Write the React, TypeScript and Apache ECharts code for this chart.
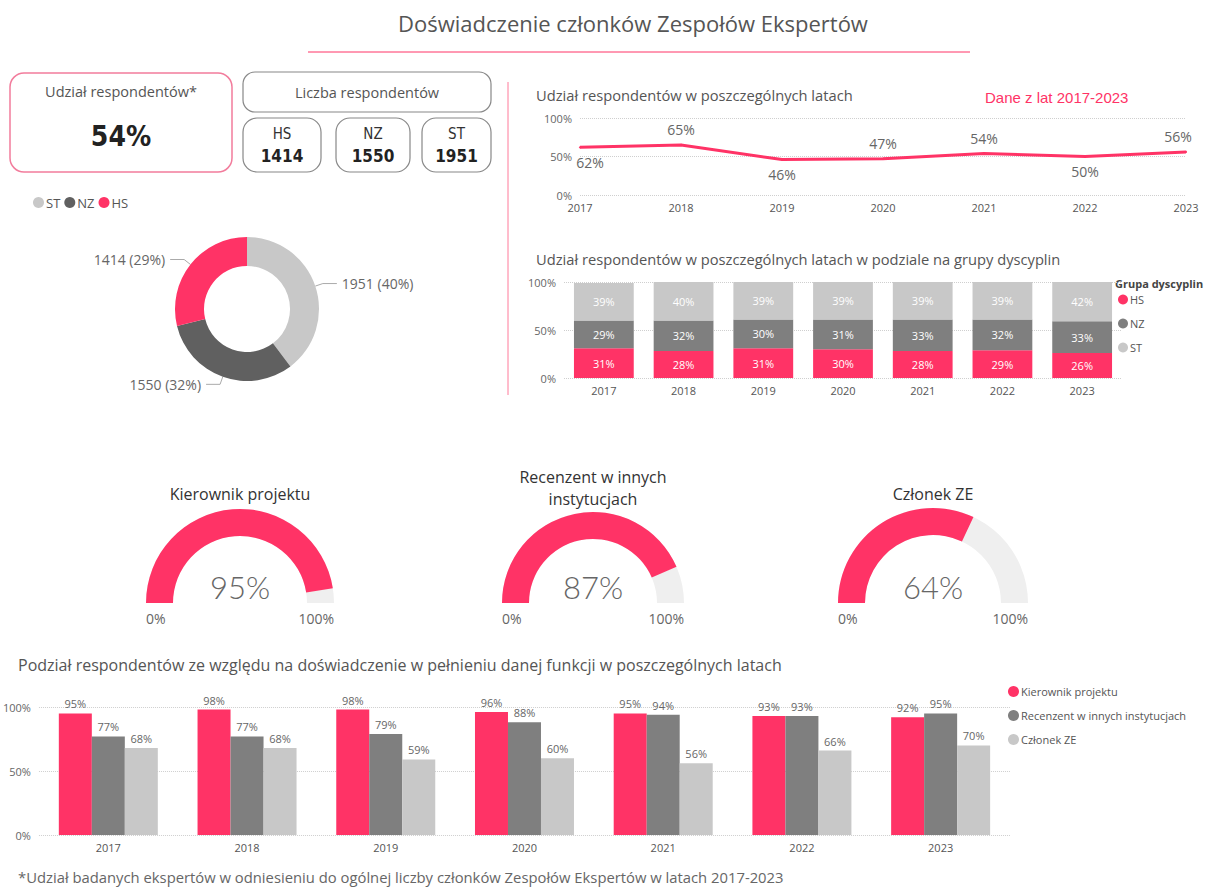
import React, { useEffect, useRef } from "react";
import * as echarts from "echarts";

const years = ["2017", "2018", "2019", "2020", "2021", "2022", "2023"];
const shareByYear = [62, 65, 46, 47, 54, 50, 56];
const shareLabelPos = ["bottom", "top", "bottom", "top", "top", "bottom", "top"];
const hsShare = [31, 28, 31, 30, 28, 29, 26];
const nzShare = [29, 32, 30, 31, 33, 32, 33];
const stShare = [39, 40, 39, 39, 39, 39, 42];
const groups = ["HS", "NZ", "ST"];
const groupCounts = [1414, 1550, 1951];
const overallShare = 54;
const gaugeNames = ["Kierownik projektu", "Recenzent w innych\ninstytucjach", "Członek ZE"];
const gaugeValues = [95, 87, 64];
const roleNames = ["Kierownik projektu", "Recenzent w innych instytucjach", "Członek ZE"];
const kierownik = [95, 98, 98, 96, 95, 93, 92];
const recenzent = [77, 77, 79, 88, 94, 93, 95];
const czlonek = [68, 68, 59, 60, 56, 66, 70];

const PINK = "#ff3366";
const DARK = "#606060";
const MID = "#7f7f7f";
const LIGHT = "#c8c8c8";
const FONT = "'Segoe UI', 'Open Sans', 'Noto Sans', sans-serif";
const NUMFONT = "'DejaVu Sans Condensed', 'Roboto Condensed', Roboto, sans-serif";
const THINFONT = "Lato, Roboto, sans-serif";
const TXT = "#555";

const groupColor: Record<string, string> = { HS: PINK, NZ: DARK, ST: LIGHT };

export default function App() {
  const ref = useRef<HTMLDivElement>(null);
  useEffect(() => {
    const chart = echarts.init(ref.current!, undefined, { renderer: "svg" });

    const gaugeLayout = [
      { cx: 240, cy: 603, r: 94, titleOff: -109 },
      { cx: 593, cy: 603, r: 91, titleOff: -115 },
      { cx: 933, cy: 603, r: 95, titleOff: -109 },
    ];

    const smallBoxes = [
      { x: 243, w: 78 },
      { x: 336, w: 74 },
      { x: 422, w: 69 },
    ];

    const graphic: any[] = [
      { type: "text", x: 633, y: 23, style: { text: "Doświadczenie członków Zespołów Ekspertów", fontSize: 22, fill: TXT, fontFamily: FONT, align: "center", verticalAlign: "middle" } },
      { type: "line", shape: { x1: 308, y1: 52, x2: 970, y2: 52 }, style: { stroke: PINK, lineWidth: 1 } },
      { type: "rect", shape: { x: 10, y: 73, width: 222, height: 99, r: 14 }, style: { fill: "none", stroke: "#f27c9c", lineWidth: 1.5 } },
      { type: "text", x: 121, y: 91, style: { text: "Udział respondentów*", fontSize: 14.5, fill: TXT, fontFamily: FONT, align: "center", verticalAlign: "middle" } },
      { type: "text", x: 121, y: 136, style: { text: overallShare + "%", fontSize: 28, fontWeight: 600, fill: "#222", fontFamily: NUMFONT, align: "center", verticalAlign: "middle" } },
      { type: "rect", shape: { x: 243, y: 72, width: 248, height: 40, r: 12 }, style: { fill: "none", stroke: "#888", lineWidth: 1.2 } },
      { type: "text", x: 367, y: 92, style: { text: "Liczba respondentów", fontSize: 14.5, fill: TXT, fontFamily: FONT, align: "center", verticalAlign: "middle" } },
      { type: "line", shape: { x1: 508, y1: 82, x2: 508, y2: 395 }, style: { stroke: "#ff7a9a", lineWidth: 1 } },
      { type: "text", x: 536, y: 95, style: { text: "Udział respondentów w poszczególnych latach", fontSize: 14.7, fill: TXT, fontFamily: FONT, verticalAlign: "middle" } },
      { type: "text", x: 985, y: 97, style: { text: "Dane z lat 2017-2023", fontSize: 15, fill: PINK, fontFamily: "'Liberation Sans', Arial, sans-serif", verticalAlign: "middle" } },
      { type: "text", x: 536, y: 259, style: { text: "Udział respondentów w poszczególnych latach w podziale na grupy dyscyplin", fontSize: 14.7, fill: TXT, fontFamily: FONT, verticalAlign: "middle" } },
      { type: "text", x: 1115, y: 283, style: { text: "Grupa dyscyplin", fontSize: 11, fontWeight: "bold", fill: "#444", fontFamily: FONT, verticalAlign: "middle" } },
      { type: "text", x: 18, y: 665, style: { text: "Podział respondentów ze względu na doświadczenie w pełnieniu danej funkcji w poszczególnych latach", fontSize: 16, fill: TXT, fontFamily: FONT, verticalAlign: "middle" } },
      { type: "text", x: 18, y: 877, style: { text: "*Udział badanych ekspertów w odniesieniu do ogólnej liczby członków Zespołów Ekspertów w latach 2017-2023", fontSize: 14.8, fill: "#666", fontFamily: FONT, verticalAlign: "middle" } },
    ];

    groups.forEach((g, i) => {
      const b = smallBoxes[i];
      graphic.push(
        { type: "rect", shape: { x: b.x, y: 118, width: b.w, height: 54, r: 14 }, style: { fill: "none", stroke: "#888", lineWidth: 1.2 } },
        { type: "text", x: b.x + b.w / 2, y: 134, style: { text: g, fontSize: 15, fill: "#333", fontFamily: NUMFONT, align: "center", verticalAlign: "middle" } },
        { type: "text", x: b.x + b.w / 2, y: 156, style: { text: String(groupCounts[i]), fontSize: 17, fontWeight: 600, fill: "#222", fontFamily: NUMFONT, align: "center", verticalAlign: "middle" } }
      );
    });

    gaugeLayout.forEach((g) => {
      graphic.push(
        { type: "text", x: g.cx - g.r, y: 618, style: { text: "0%", fontSize: 14, fill: "#666", fontFamily: FONT, verticalAlign: "middle" } },
        { type: "text", x: g.cx + g.r, y: 618, style: { text: "100%", fontSize: 14, fill: "#666", fontFamily: FONT, align: "right", verticalAlign: "middle" } }
      );
    });

    const pctAxis = (gridIndex: number) => ({
      type: "value",
      gridIndex,
      min: 0,
      max: 100,
      interval: 50,
      axisLabel: { formatter: "{value}%", color: "#666", fontSize: 11, fontFamily: FONT },
      splitLine: { lineStyle: { type: "dotted", color: "#cfcfcf" } },
    });
    const catAxis = (gridIndex: number, boundaryGap: boolean) => ({
      type: "category",
      gridIndex,
      data: years,
      boundaryGap,
      axisLine: { show: false },
      axisTick: { show: false },
      axisLabel: { color: "#555", fontSize: 11, fontFamily: FONT, margin: 7 },
    });

    const stackLabel = { show: true, position: "inside", color: "#fff", fontSize: 11, fontFamily: FONT, formatter: "{c}%" };
    const topLabel = { show: true, position: "top", color: "#666", fontSize: 11, fontFamily: FONT, formatter: "{c}%", distance: 4 };

    const lastIdx = shareByYear.length - 1;
    const series: any[] = [
      {
        type: "pie",
        center: [247, 309],
        radius: [43, 72],
        startAngle: 90,
        data: ["ST", "NZ", "HS"].map((g) => ({ name: g, value: groupCounts[groups.indexOf(g)], itemStyle: { color: groupColor[g] } })),
        label: {
          color: "#666",
          fontSize: 14,
          fontFamily: FONT,
          formatter: (p: any) => `${p.value} (${Math.round(p.percent)}%)`,
        },
        labelLine: { length: 8, length2: 14, lineStyle: { color: "#aaa" } },
      },
      {
        type: "line",
        xAxisIndex: 0,
        yAxisIndex: 0,
        data: shareByYear.map((v, i) => ({
          value: v,
          label: { position: shareLabelPos[i], offset: [i === 0 ? 10 : i === lastIdx ? -8 : 0, 0] },
        })),
        symbol: "circle",
        symbolSize: 2,
        showSymbol: true,
        lineStyle: { color: PINK, width: 3 },
        itemStyle: { color: PINK },
        label: { show: true, color: "#666", fontSize: 14, fontFamily: FONT, formatter: "{c}%", distance: 7 },
      },
      { name: "HS", type: "bar", xAxisIndex: 1, yAxisIndex: 1, stack: "g", barWidth: "75%", data: hsShare, itemStyle: { color: PINK }, label: stackLabel },
      { name: "NZ", type: "bar", xAxisIndex: 1, yAxisIndex: 1, stack: "g", barWidth: "75%", data: nzShare, itemStyle: { color: MID }, label: stackLabel },
      { name: "ST", type: "bar", xAxisIndex: 1, yAxisIndex: 1, stack: "g", barWidth: "75%", data: stShare, itemStyle: { color: LIGHT }, label: stackLabel },
      { name: roleNames[0], type: "bar", xAxisIndex: 2, yAxisIndex: 2, barWidth: 33, barGap: "0%", data: kierownik, itemStyle: { color: PINK }, label: topLabel },
      { name: roleNames[1], type: "bar", xAxisIndex: 2, yAxisIndex: 2, barWidth: 33, barGap: "0%", data: recenzent, itemStyle: { color: MID }, label: topLabel },
      { name: roleNames[2], type: "bar", xAxisIndex: 2, yAxisIndex: 2, barWidth: 33, barGap: "0%", data: czlonek, itemStyle: { color: LIGHT }, label: topLabel },
    ];

    gaugeValues.forEach((v, i) => {
      const g = gaugeLayout[i];
      series.push({
        type: "gauge",
        center: [g.cx, g.cy],
        radius: g.r,
        startAngle: 180,
        endAngle: 0,
        min: 0,
        max: 100,
        progress: { show: true, width: 27, itemStyle: { color: PINK } },
        axisLine: { lineStyle: { width: 27, color: [[1, "#efefef"]] } },
        pointer: { show: false },
        axisTick: { show: false },
        splitLine: { show: false },
        axisLabel: { show: false },
        anchor: { show: false },
        title: { offsetCenter: [0, g.titleOff], fontSize: 16, color: "#333", fontFamily: FONT, lineHeight: 22 },
        detail: { offsetCenter: [0, -16], fontSize: 31, fontWeight: 300, color: "#666", fontFamily: THINFONT, formatter: "{value}%" },
        data: [{ value: v, name: gaugeNames[i] }],
      });
    });

    const legendText = { color: TXT, fontFamily: FONT };

    chart.setOption({
      animation: false,
      textStyle: { fontFamily: FONT },
      graphic,
      legend: [
        {
          left: 28,
          top: 191,
          icon: "circle",
          itemWidth: 11,
          itemHeight: 11,
          itemGap: 4,
          textStyle: { ...legendText, fontSize: 13, padding: [0, 0, 0, -3] },
          data: ["ST", "NZ", "HS"].map((g) => ({ name: g, itemStyle: { color: groupColor[g] } })),
        },
        {
          left: 1113,
          top: 289,
          orient: "vertical",
          icon: "circle",
          itemWidth: 10,
          itemHeight: 10,
          itemGap: 13,
          textStyle: { ...legendText, fontSize: 11, padding: [0, 0, 0, -3] },
          data: [
            { name: "HS", itemStyle: { color: PINK } },
            { name: "NZ", itemStyle: { color: MID } },
            { name: "ST", itemStyle: { color: LIGHT } },
          ],
        },
        {
          left: 1003,
          top: 681,
          orient: "vertical",
          icon: "circle",
          itemWidth: 11,
          itemHeight: 11,
          itemGap: 13,
          textStyle: { ...legendText, fontSize: 11, padding: [0, 0, 0, -3] },
          data: roleNames,
        },
      ],
      grid: [
        { left: 580, right: 19, top: 118, bottom: 693 },
        { left: 564, right: 83, top: 282, bottom: 510 },
        { left: 33, right: 195, top: 707, bottom: 53 },
      ],
      xAxis: [catAxis(0, false), catAxis(1, true), catAxis(2, true)],
      yAxis: [pctAxis(0), pctAxis(1), pctAxis(2)],
      series,
    });
    return () => chart.dispose();
  }, []);
  return <div ref={ref} style={{ position: "absolute", left: 0, top: 0, width: 1205, height: 888, background: "#fff" }} />;
}
